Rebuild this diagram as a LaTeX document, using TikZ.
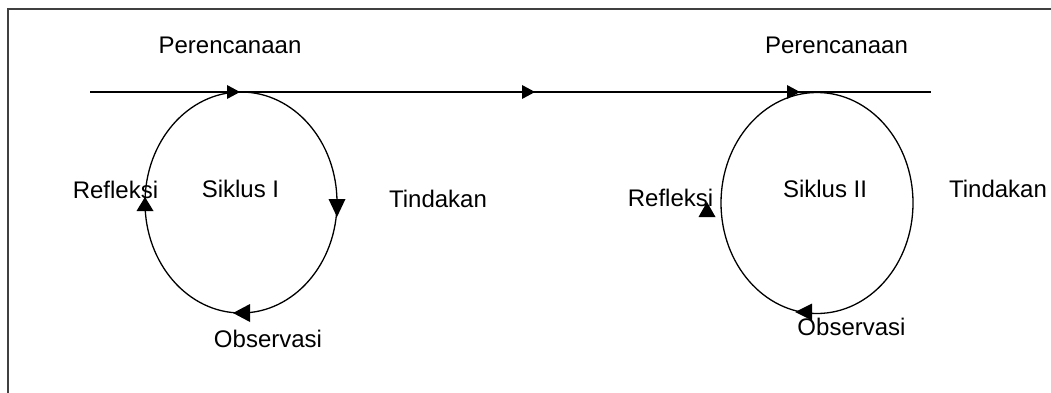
\documentclass[tikz,border=0pt]{standalone}
\usepackage{fontspec}
\setmainfont{Liberation Sans}
\usetikzlibrary{shapes.geometric}
\begin{document}
\begin{tikzpicture}[x=1pt,y=-1pt,
  lbl/.style={anchor=base,inner sep=0pt,font=\fontsize{24}{28}\selectfont},
  cyc/.style={ellipse,draw,line width=1.3pt,inner sep=0pt,outer sep=0pt,minimum width=192pt,minimum height=221pt},
  head/.style={fill=black},
  frameline/.style={draw=black!75,line width=2pt},
  mainline/.style={draw=black,line width=2pt}]
\useasboundingbox (0,0) rectangle (1051,393);
\fill[white] (0,0) rectangle (1051,393);
% frame
\draw[frameline] (8,393) -- (8,9) -- (1051,9);
% cycles
\node[cyc] (c1) at (241,202.5) {};
\node[cyc] (c2) at (817,203) {};
% main line
\coordinate (L) at (90,92);
\coordinate (R) at (931,92);
\draw[mainline] (L) -- (R);
\fill[head] (240,92) -- (227,85) -- (227,99) -- cycle;
\fill[head] (535,92) -- (522,85) -- (522,99) -- cycle;
\fill[head] (800,92) -- (787,85) -- (787,99) -- cycle;
% cycle I arrowheads
\fill[head] (337,217) -- (328.5,199) -- (345.5,199) -- cycle;
\fill[head] (145,197) -- (136.5,211) -- (153.5,211) -- cycle;
\fill[head] (233,313) -- (250,304) -- (250,322) -- cycle;
% cycle II arrowheads
\fill[head] (707,202) -- (698.5,217) -- (715.5,217) -- cycle;
\fill[head] (795,312) -- (812,303.5) -- (812,320.5) -- cycle;
% labels
\node[lbl] (p1) at (230,54) {Perencanaan};
\node[lbl] (p2) at (836.5,54) {Perencanaan};
\node[lbl] (r1) at (115.5,198) {Refleksi};
\node[lbl] (s1) at (240.5,197) {Siklus I};
\node[lbl] (t1) at (438,207) {Tindakan};
\node[lbl] (o1) at (268,347) {Observasi};
\node[lbl] (r2) at (670.5,206) {Refleksi};
\node[lbl] (s2) at (825,197) {Siklus II};
\node[lbl] (t2) at (998,197) {Tindakan};
\node[lbl] (o2) at (851.5,335) {Observasi};
\end{tikzpicture}
\end{document}
